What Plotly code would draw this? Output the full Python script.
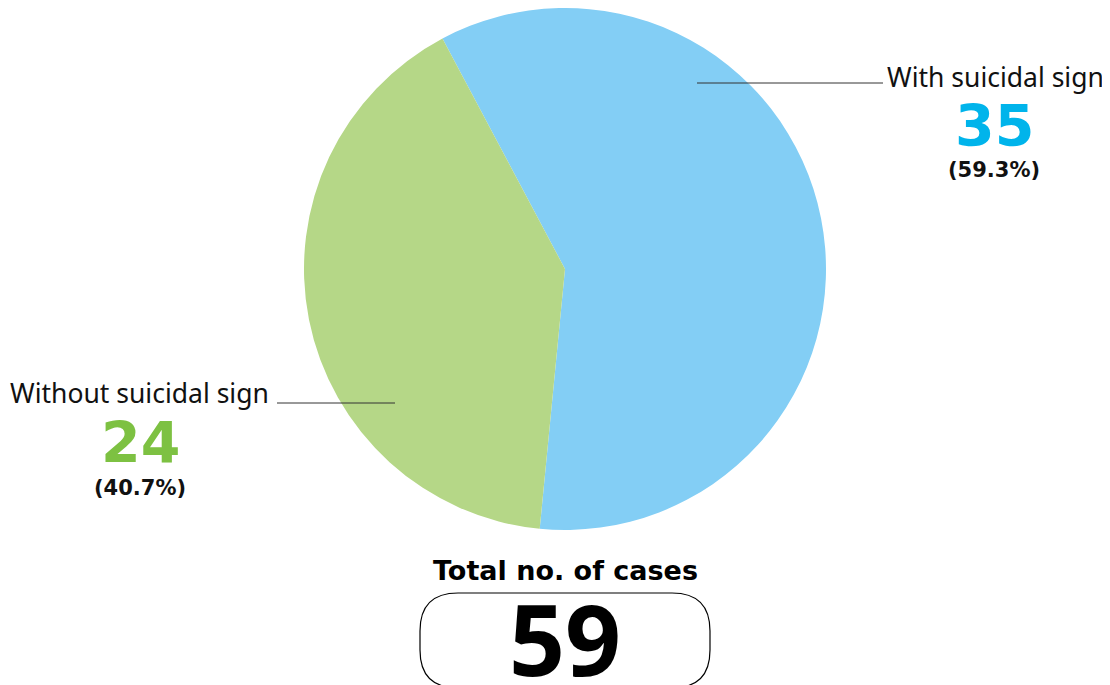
import plotly.graph_objects as go

W, H = 1110, 685
OFF = 8  # page offset of the plot inside the browser window

labels = ["With suicidal sign", "Without suicidal sign"]
values = [35, 24]
percents = ["(59.3%)", "(40.7%)"]
slice_colors = ["#83CEF5", "#B5D787"]
number_colors = ["#00B4EB", "#7DC142"]
total_label = "Total no. of cases"
total_value = sum(values)


def px(x):
    return (x - OFF) / W


def py(y):
    return 1 - (y - OFF) / H


cx, cy, r = 565, 269, 261

fig = go.Figure()
fig.add_trace(go.Pie(
    labels=labels,
    values=values,
    marker=dict(colors=slice_colors, line=dict(width=0)),
    sort=False,
    direction="clockwise",
    rotation=-28,
    textinfo="none",
    hoverinfo="label+value+percent",
    showlegend=False,
    domain=dict(x=[px(cx - r), px(cx + r)], y=[py(cy + r), py(cy - r)]),
))

font_main = "Noto Sans, Open Sans, sans-serif"
font_num = "DejaVu Sans, sans-serif"
font_bold = "Open Sans, Noto Sans, sans-serif"

ann = []
# With suicidal sign
ann.append(dict(x=px(885), y=py(77), text=labels[0], showarrow=False,
                xanchor="left", yanchor="middle",
                font=dict(family=font_main, size=26.5, color="#111111")))
ann.append(dict(x=px(994), y=py(126), text="<b>%d</b>" % values[0], showarrow=False,
                xanchor="center", yanchor="middle",
                font=dict(family=font_num, size=57, color=number_colors[0])))
ann.append(dict(x=px(994), y=py(170), text="<b>%s</b>" % percents[0], showarrow=False,
                xanchor="center", yanchor="middle",
                font=dict(family=font_num, size=21, color="#111111")))
# Without suicidal sign
ann.append(dict(x=px(271), y=py(393), text=labels[1], showarrow=False,
                xanchor="right", yanchor="middle",
                font=dict(family=font_main, size=26.5, color="#111111")))
ann.append(dict(x=px(140), y=py(443), text="<b>%d</b>" % values[1], showarrow=False,
                xanchor="center", yanchor="middle",
                font=dict(family=font_num, size=57, color=number_colors[1])))
ann.append(dict(x=px(140), y=py(488), text="<b>%s</b>" % percents[1], showarrow=False,
                xanchor="center", yanchor="middle",
                font=dict(family=font_num, size=21, color="#111111")))
# Total
ann.append(dict(x=px(565), y=py(570), text="<b>%s</b>" % total_label, showarrow=False,
                xanchor="center", yanchor="middle",
                font=dict(family=font_num, size=27, color="#000000")))
ann.append(dict(x=px(565), y=py(638), text="<b>%d</b>" % total_value, showarrow=False,
                xanchor="center", yanchor="middle", height=86, valign="middle",
                font=dict(family=font_bold, size=98, color="#000000")))

shapes = []
shapes.append(dict(type="line", xref="paper", yref="paper",
                   x0=px(697), x1=px(883), y0=py(83), y1=py(83),
                   line=dict(color="#333333", width=1)))
shapes.append(dict(type="line", xref="paper", yref="paper",
                   x0=px(277), x1=px(395), y0=py(403), y1=py(403),
                   line=dict(color="#333333", width=1)))

# rounded box (pixel path converted to paper)
L, R, T, B, rad = 420, 710, 593, 688, 38


def P(x, y):
    return "%.5f,%.5f" % (px(x), py(y))


path = ("M " + P(L + rad, T) + " L " + P(R - rad, T) + " Q " + P(R, T) + " " + P(R, T + rad) +
        " L " + P(R, B - rad) + " Q " + P(R, B) + " " + P(R - rad, B) +
        " L " + P(L + rad, B) + " Q " + P(L, B) + " " + P(L, B - rad) +
        " L " + P(L, T + rad) + " Q " + P(L, T) + " " + P(L + rad, T) + " Z")
shapes.append(dict(type="path", xref="paper", yref="paper", path=path,
                   line=dict(color="#000000", width=1.2), fillcolor="rgba(0,0,0,0)"))

fig.update_layout(
    width=W, height=H,
    margin=dict(l=0, r=0, t=0, b=0),
    paper_bgcolor="white", plot_bgcolor="white",
    annotations=ann, shapes=shapes,
)

fig.write_html("out.html")
